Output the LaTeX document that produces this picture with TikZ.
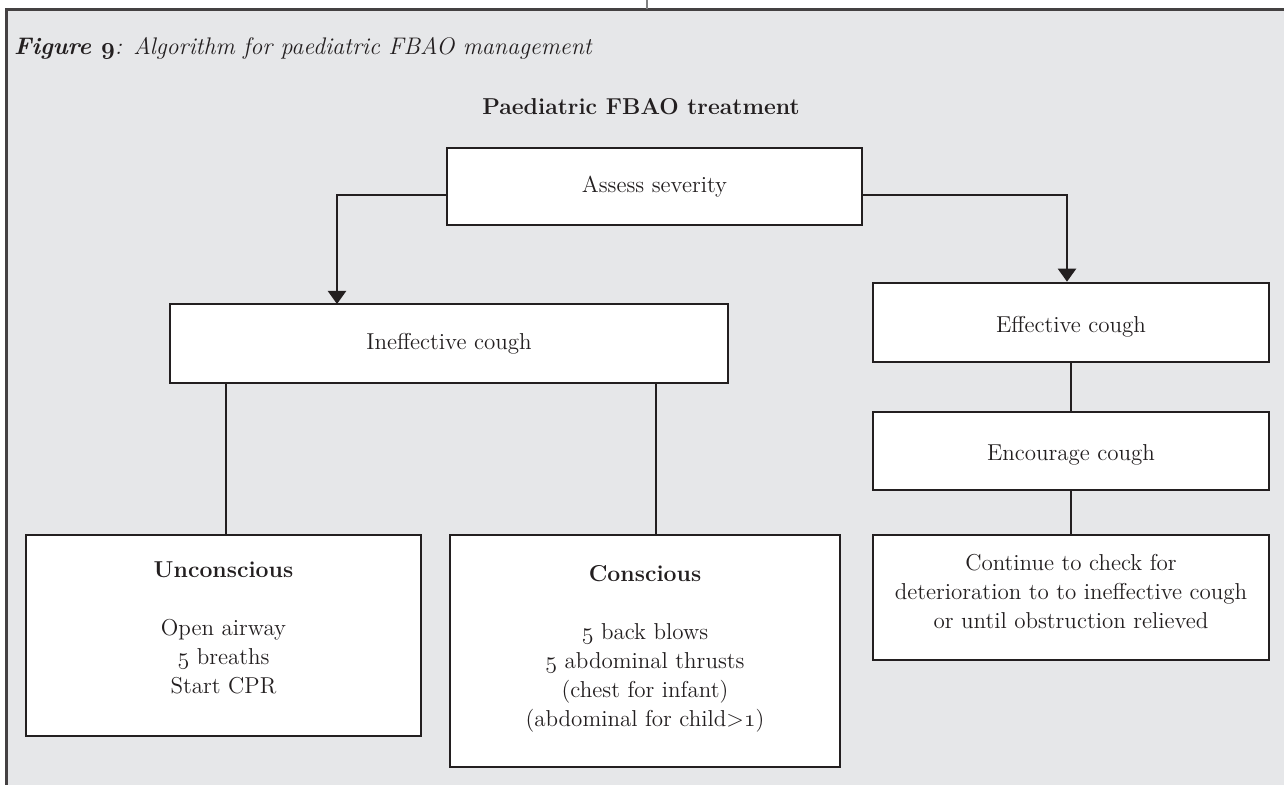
\documentclass[tikz,border=0pt]{standalone}
\usetikzlibrary{arrows.meta}
\definecolor{panel}{HTML}{E6E7E9}
\definecolor{ink}{HTML}{231F20}
\newcommand\osn[1]{{\fontencoding{OML}\fontfamily{cmm}\fontshape{it}\selectfont #1}}
\newcommand\lift[1]{\rule[-#1]{0pt}{#1}}
\begin{document}
\begin{tikzpicture}[x=0.5pt,y=-0.5pt,
  every node/.style={text=ink, font=\fontsize{11.5}{14.5}\selectfont},
  box/.style={draw=ink, line width=1.3pt, fill=white, inner sep=0pt, align=center},
  link/.style={draw=ink, line width=1.1pt},
  arr/.style={link, -{Triangle[width=9pt,length=6.5pt]}}]
\useasboundingbox (0,0) rectangle (1284,785);
\fill[panel] (6,9) rectangle (1284,785);
\draw[ink!85, line width=1.5pt] (6.5,785) -- (6.5,9.5) -- (1284,9.5);
\draw[gray, line width=0.6pt] (647,0) -- (647,9);

\node[anchor=west, font=\fontsize{12}{14.5}\selectfont] (title) at (7,48) {\textbf{\textit{Figure \osn{9}}}\textit{: Algorithm for paediatric FBAO management}};
\node[font=\fontsize{11.5}{14.5}\selectfont\bfseries] (head) at (641,107) {Paediatric FBAO treatment};

\node[box, minimum width=207.5pt, minimum height=38.5pt] (assess) at (654.5,186.5) {Assess severity};
\node[box, minimum width=279pt, minimum height=39.5pt] (ineff) at (449,343.5) {Ineffective cough};
\node[box, minimum width=198pt, minimum height=39.5pt] (eff) at (1071,322.5) {\rule{0pt}{12pt}Effective cough};
\node[box, minimum width=198pt, minimum height=39pt] (enc) at (1071,451) {\rule{0pt}{12pt}Encourage cough};
\node[box, minimum width=198pt, minimum height=62.5pt] (cont) at (1071,597.5) {Continue to check for\\deterioration to to ineffective cough\\or until obstruction relieved\lift{6.5pt}};
\node[box, minimum width=197.5pt, minimum height=100.5pt] (uncon) at (223.5,635.5) {\textbf{Unconscious}\\[14.5pt]Open airway\\\osn{5} breaths\\Start CPR\lift{7.5pt}};
\node[box, minimum width=195pt, minimum height=116pt] (con) at (645,651) {\textbf{Conscious}\\[14.5pt]\osn{5} back blows\\\osn{5} abdominal thrusts\\(chest for infant)\\(abdominal for child>\osn{1})\lift{5.5pt}};

\coordinate (ia) at (337,304);
\coordinate (cn) at (656,535);
\coordinate (un) at (226,535);
\draw[arr] ([yshift=-4.25pt]assess.west) -| (ia);
\draw[arr] ([yshift=-4.25pt]assess.east) -| ([xshift=-2pt]eff.north);
\draw[link] (eff.south) -- (enc.north);
\draw[link] (enc.south) -- (cont.north);
\draw[link] (un |- ineff.south) -- (un);
\draw[link] (cn |- ineff.south) -- (cn);
\end{tikzpicture}
\end{document}
